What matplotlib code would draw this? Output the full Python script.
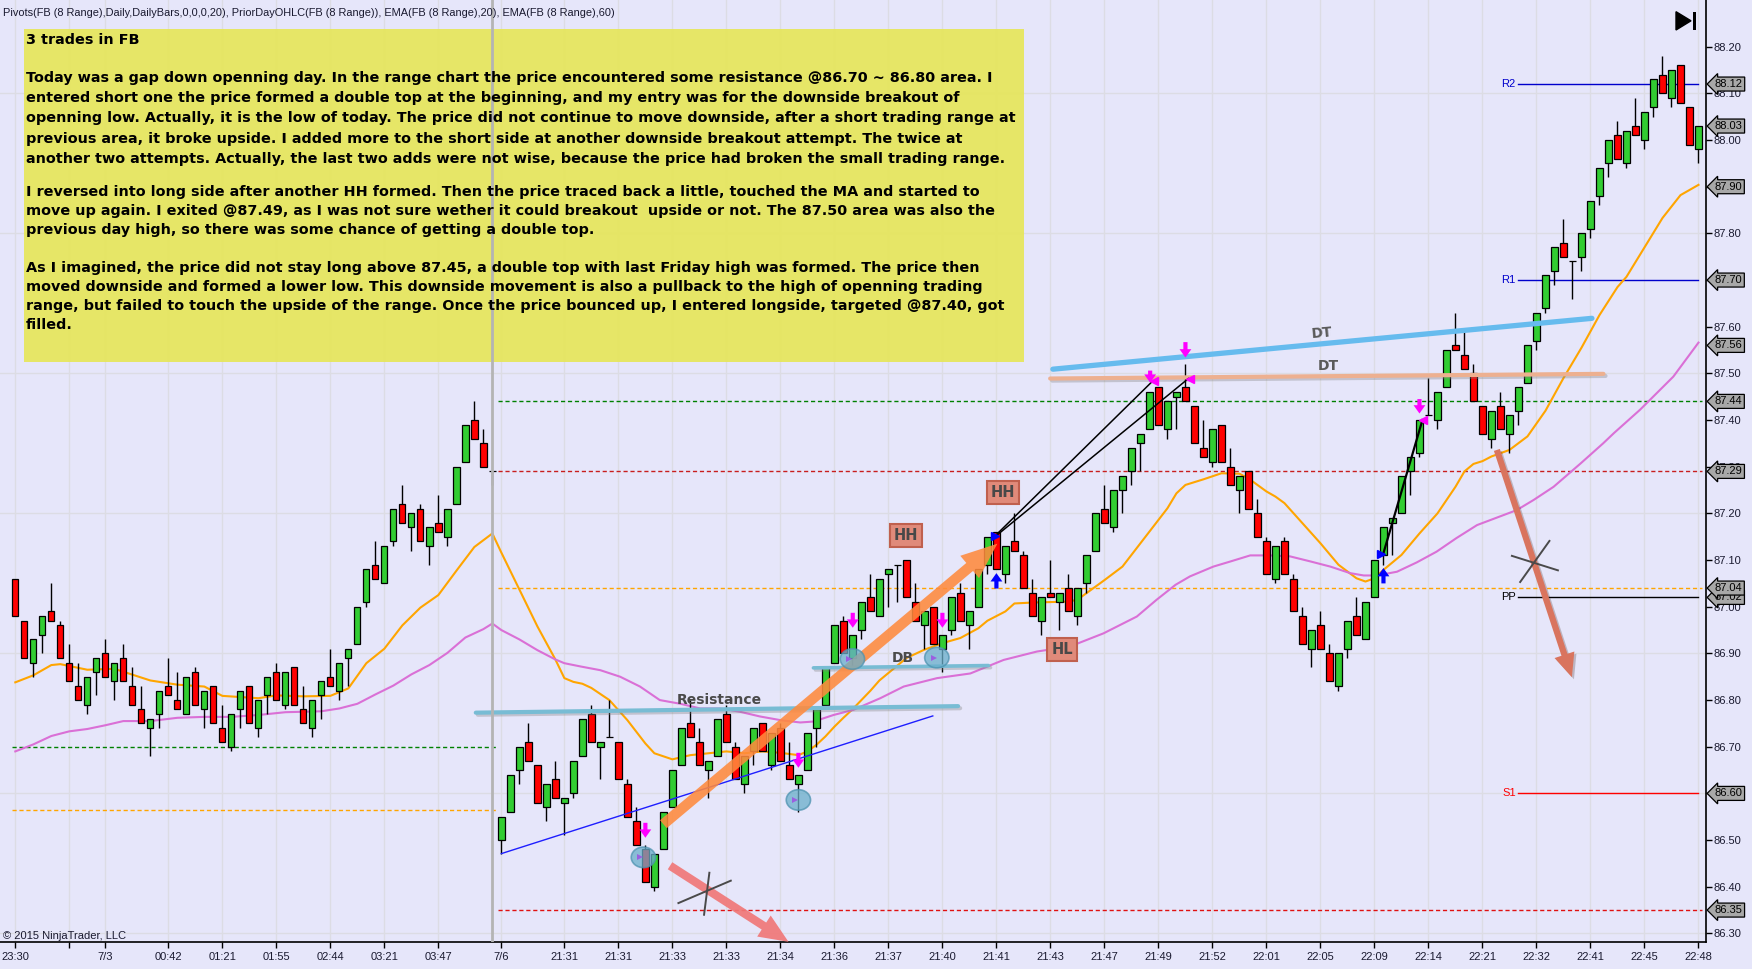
import matplotlib
matplotlib.use('Agg')
import matplotlib.pyplot as plt
import matplotlib.transforms as mtransforms
import matplotlib.patheffects as pe
from matplotlib.patches import Rectangle, Ellipse, FancyArrowPatch, Polygon

# ---------------- data ----------------
opens = [87.06, 86.97, 86.88, 86.94, 86.99, 86.96, 86.88, 86.83, 86.79, 86.86,
         86.90, 86.84, 86.89, 86.83, 86.78, 86.74, 86.77, 86.83, 86.80, 86.77,
         86.86, 86.78, 86.83, 86.74, 86.70, 86.78, 86.83, 86.74, 86.81, 86.86,
         86.79, 86.87, 86.78, 86.74, 86.81, 86.85, 86.82, 86.89, 86.92, 87.01,
         87.09, 87.05, 87.14, 87.22, 87.17, 87.21, 87.13, 87.18, 87.15, 87.22,
         87.31, 87.40, 87.35, 87.29,
         86.50, 86.56, 86.65, 86.71, 86.66, 86.57, 86.63, 86.58, 86.60, 86.68,
         86.77, 86.70, 86.72, 86.71, 86.62, 86.54, 86.48, 86.40, 86.48, 86.57,
         86.66, 86.75, 86.71, 86.65, 86.68, 86.77, 86.70, 86.62, 86.69, 86.75,
         86.66, 86.74, 86.66, 86.62, 86.65, 86.74, 86.79, 86.88, 86.97, 86.89,
         86.95, 87.02, 86.98, 87.07, 87.09, 87.10, 87.01, 86.96, 87.00, 86.91,
         86.95, 87.03, 86.96, 87.00, 87.09, 87.16, 87.07, 87.14, 87.11, 87.03,
         86.97, 87.03, 87.01, 87.04, 86.98, 87.05, 87.12, 87.21, 87.17, 87.25,
         87.29, 87.35, 87.38, 87.47, 87.38, 87.45, 87.47, 87.43, 87.34, 87.31,
         87.39, 87.30, 87.25, 87.29, 87.20, 87.14, 87.06, 87.14, 87.06, 86.98,
         86.91, 86.96, 86.90, 86.83, 86.91, 86.98, 86.93, 87.02, 87.11, 87.18,
         87.20, 87.29, 87.33, 87.41, 87.40, 87.47, 87.56, 87.54, 87.50, 87.43,
         87.36, 87.43, 87.37, 87.42, 87.48, 87.57, 87.64, 87.72, 87.78, 87.74,
         87.75, 87.81, 87.88, 87.95, 88.01, 87.95, 88.03, 88.00, 88.07, 88.14,
         88.09, 88.16, 88.07, 87.98]
highs = [87.06, 86.97, 86.93, 86.98, 87.05, 86.97, 86.92, 86.88, 86.85, 86.89,
         86.93, 86.88, 86.92, 86.87, 86.83, 86.76, 86.82, 86.89, 86.86, 86.85,
         86.87, 86.82, 86.83, 86.79, 86.77, 86.82, 86.83, 86.80, 86.85, 86.88,
         86.86, 86.87, 86.83, 86.80, 86.84, 86.91, 86.88, 86.91, 87.00, 87.08,
         87.14, 87.13, 87.21, 87.26, 87.20, 87.22, 87.17, 87.24, 87.21, 87.30,
         87.39, 87.44, 87.38, 87.29,
         86.55, 86.64, 86.70, 86.75, 86.66, 86.62, 86.67, 86.59, 86.67, 86.76,
         86.79, 86.71, 86.80, 86.71, 86.63, 86.57, 86.49, 86.47, 86.56, 86.65,
         86.74, 86.80, 86.74, 86.67, 86.76, 86.79, 86.71, 86.68, 86.74, 86.75,
         86.73, 86.75, 86.71, 86.64, 86.73, 86.78, 86.87, 86.96, 86.98, 86.94,
         87.01, 87.07, 87.06, 87.08, 87.09, 87.10, 87.05, 86.99, 87.00, 86.94,
         87.02, 87.05, 86.99, 87.08, 87.15, 87.16, 87.13, 87.20, 87.12, 87.06,
         87.02, 87.10, 87.03, 87.07, 87.04, 87.11, 87.20, 87.26, 87.25, 87.28,
         87.34, 87.37, 87.46, 87.47, 87.44, 87.46, 87.52, 87.43, 87.40, 87.38,
         87.39, 87.34, 87.28, 87.29, 87.23, 87.15, 87.13, 87.15, 87.07, 87.00,
         86.95, 86.99, 86.92, 86.90, 86.97, 87.02, 87.01, 87.10, 87.17, 87.19,
         87.28, 87.32, 87.40, 87.49, 87.46, 87.55, 87.63, 87.59, 87.52, 87.43,
         87.42, 87.46, 87.41, 87.47, 87.56, 87.63, 87.71, 87.77, 87.83, 87.74,
         87.80, 87.87, 87.94, 88.00, 88.04, 88.02, 88.09, 88.06, 88.13, 88.18,
         88.15, 88.16, 88.07, 88.03]
lows = [86.98, 86.89, 86.85, 86.90, 86.97, 86.89, 86.84, 86.80, 86.77, 86.81,
        86.85, 86.80, 86.84, 86.79, 86.75, 86.68, 86.74, 86.81, 86.78, 86.77,
        86.79, 86.74, 86.75, 86.71, 86.69, 86.74, 86.75, 86.72, 86.77, 86.80,
        86.78, 86.79, 86.75, 86.72, 86.76, 86.83, 86.80, 86.83, 86.92, 87.00,
        87.06, 87.05, 87.13, 87.18, 87.12, 87.14, 87.09, 87.16, 87.13, 87.22,
        87.31, 87.36, 87.30, 87.26,
        86.47, 86.56, 86.62, 86.67, 86.58, 86.54, 86.59, 86.51, 86.59, 86.68,
        86.71, 86.63, 86.72, 86.63, 86.55, 86.49, 86.41, 86.39, 86.48, 86.57,
        86.66, 86.72, 86.66, 86.59, 86.68, 86.71, 86.63, 86.60, 86.66, 86.69,
        86.65, 86.67, 86.63, 86.56, 86.65, 86.70, 86.79, 86.88, 86.90, 86.87,
        86.93, 86.99, 86.98, 87.00, 87.01, 87.02, 86.97, 86.91, 86.92, 86.86,
        86.94, 86.97, 86.91, 87.00, 87.07, 87.08, 87.05, 87.12, 87.04, 86.98,
        86.94, 87.02, 86.95, 86.99, 86.96, 87.03, 87.12, 87.18, 87.16, 87.20,
        87.26, 87.29, 87.38, 87.39, 87.36, 87.38, 87.44, 87.35, 87.32, 87.30,
        87.31, 87.26, 87.20, 87.21, 87.15, 87.07, 87.05, 87.07, 86.99, 86.92,
        86.87, 86.91, 86.84, 86.82, 86.89, 86.94, 86.93, 87.02, 87.09, 87.11,
        87.20, 87.24, 87.32, 87.41, 87.38, 87.47, 87.55, 87.51, 87.44, 87.37,
        87.34, 87.38, 87.33, 87.39, 87.48, 87.55, 87.63, 87.69, 87.75, 87.66,
        87.72, 87.79, 87.86, 87.92, 87.96, 87.94, 88.01, 87.98, 88.05, 88.10,
        88.07, 88.08, 87.99, 87.95]
closes = [86.98, 86.89, 86.93, 86.98, 86.97, 86.89, 86.84, 86.80, 86.85, 86.89,
          86.85, 86.88, 86.84, 86.79, 86.75, 86.76, 86.82, 86.81, 86.78, 86.85,
          86.79, 86.82, 86.75, 86.71, 86.77, 86.82, 86.75, 86.80, 86.85, 86.80,
          86.86, 86.79, 86.75, 86.80, 86.84, 86.83, 86.88, 86.91, 87.00, 87.08,
          87.06, 87.13, 87.21, 87.18, 87.20, 87.14, 87.17, 87.16, 87.21, 87.30,
          87.39, 87.36, 87.30, 87.29,
          86.55, 86.64, 86.70, 86.67, 86.58, 86.62, 86.59, 86.59, 86.67, 86.76,
          86.71, 86.71, 86.72, 86.63, 86.55, 86.49, 86.41, 86.47, 86.56, 86.65,
          86.74, 86.72, 86.66, 86.67, 86.76, 86.71, 86.63, 86.68, 86.74, 86.69,
          86.73, 86.67, 86.63, 86.64, 86.73, 86.78, 86.87, 86.96, 86.90, 86.94,
          87.01, 86.99, 87.06, 87.08, 87.09, 87.02, 86.97, 86.99, 86.92, 86.94,
          87.02, 86.97, 86.99, 87.08, 87.15, 87.08, 87.13, 87.12, 87.04, 86.98,
          87.02, 87.02, 87.03, 86.99, 87.04, 87.11, 87.20, 87.18, 87.25, 87.28,
          87.34, 87.37, 87.46, 87.39, 87.44, 87.46, 87.44, 87.35, 87.32, 87.38,
          87.31, 87.26, 87.28, 87.21, 87.15, 87.07, 87.13, 87.07, 86.99, 86.92,
          86.95, 86.91, 86.84, 86.90, 86.97, 86.94, 87.01, 87.10, 87.17, 87.19,
          87.28, 87.32, 87.40, 87.41, 87.46, 87.55, 87.55, 87.51, 87.44, 87.37,
          87.42, 87.38, 87.41, 87.47, 87.56, 87.63, 87.71, 87.77, 87.75, 87.74,
          87.80, 87.87, 87.94, 88.00, 87.96, 88.02, 88.01, 88.06, 88.13, 88.10,
          88.15, 88.08, 87.99, 88.03]

ema20_x = [0, 2, 4, 5, 8, 11, 15, 18, 21, 23, 27, 29, 32, 35, 37, 39, 41, 43, 45, 47,
           49, 51, 53, 54, 56, 58, 60, 61, 62, 63, 64, 66, 68, 70, 71, 73, 75, 77, 79, 81,
           83, 85, 87, 88, 89, 90, 91, 92, 93, 94, 95, 96, 97, 99, 101, 103, 105, 107, 108, 110,
           111, 113, 115, 117, 118, 119, 121, 123, 125, 127, 128, 129, 130, 132, 134, 136, 137, 139, 140, 141,
           143, 145, 147, 149, 150, 151, 152, 154, 156, 158, 160, 161, 162, 163, 164, 166, 168, 170, 172, 174,
           176, 178, 179, 181, 183, 185, 186, 187]
ema20_y = [86.838, 86.853, 86.875, 86.877, 86.865, 86.867, 86.842, 86.833, 86.829, 86.809,
           86.804, 86.810, 86.808, 86.809, 86.825, 86.879, 86.910, 86.960, 86.998, 87.025,
           87.077, 87.128, 87.157, 87.116, 87.037, 86.958, 86.887, 86.847, 86.839, 86.835,
           86.826, 86.800, 86.757, 86.707, 86.686, 86.673, 86.682, 86.686, 86.690, 86.686,
           86.690, 86.687, 86.682, 86.690, 86.704, 86.722, 86.743, 86.762, 86.780, 86.800,
           86.820, 86.842, 86.858, 86.890, 86.908, 86.922, 86.933, 86.954, 86.970, 86.990,
           87.007, 87.009, 87.010, 87.011, 87.015, 87.029, 87.057, 87.086, 87.136, 87.186,
           87.211, 87.243, 87.261, 87.273, 87.286, 87.285, 87.275, 87.247, 87.236, 87.222,
           87.179, 87.136, 87.090, 87.061, 87.054, 87.061, 87.079, 87.111, 87.157, 87.200,
           87.257, 87.290, 87.306, 87.312, 87.322, 87.336, 87.365, 87.420, 87.490, 87.555,
           87.625, 87.685, 87.707, 87.770, 87.833, 87.882, 87.893, 87.904]

ema60_x = [0, 2, 4, 6, 8, 10, 12, 15, 18, 21, 24, 27, 30, 34, 36, 38, 40, 42, 44, 46,
           48, 50, 52, 53, 54, 56, 58, 60, 61, 62.8, 65, 67.2, 69.4, 71.6, 73.9, 76.1, 78.3, 80.5, 82.7, 85,
           87.2, 88.7, 90.9, 93.1, 96.1, 98.7, 102.4, 106.1, 109.8, 113.5, 117.2, 120.9, 124.6, 126.8, 128.9, 130.5,
           133.1, 135, 137.2, 139.4, 141.6, 143.9, 146.1, 148.3, 149.8, 151.3, 153.5, 155.7, 157.9, 160.1,
           162.4, 166.8, 168.7, 170.9, 173.9, 176.4, 177.6, 180.5, 184.2, 187]
ema60_y = [86.690, 86.705, 86.723, 86.733, 86.738, 86.746, 86.755, 86.755, 86.762, 86.764,
           86.764, 86.768, 86.774, 86.776, 86.782, 86.792, 86.812, 86.831, 86.855, 86.875,
           86.901, 86.934, 86.952, 86.964, 86.950, 86.930, 86.907, 86.887, 86.879, 86.872,
           86.864, 86.850, 86.829, 86.800, 86.792, 86.782, 86.782, 86.775, 86.765, 86.757,
           86.752, 86.754, 86.768, 86.779, 86.804, 86.829, 86.847, 86.857, 86.886, 86.904,
           86.915, 86.943, 86.979, 87.015, 87.047, 87.065, 87.086, 87.097, 87.110, 87.110,
           87.108, 87.097, 87.086, 87.072, 87.067, 87.067, 87.075, 87.095, 87.118, 87.147,
           87.175, 87.207, 87.229, 87.257, 87.307, 87.350, 87.372, 87.422, 87.493, 87.566]

xtick_pos = [0, 6, 10, 17, 23, 29, 35, 41, 47, 54, 61, 67, 73, 79, 85, 91, 97, 103, 109,
             115, 121, 127, 133, 139, 145, 151, 157, 163, 169, 175, 181, 187]
xtick_labels = ['23:30', '', '7/3', '00:42', '01:21', '01:55', '02:44', '03:21', '03:47', '7/6',
                '21:31', '21:31', '21:33', '21:33', '21:34', '21:36', '21:37', '21:40', '21:41',
                '21:43', '21:47', '21:49', '21:52', '22:01', '22:05', '22:09', '22:14', '22:21',
                '22:32', '22:41', '22:45', '22:48']
ytick_vals = [86.30, 86.40, 86.50, 86.60, 86.70, 86.80, 86.90, 87.00, 87.10, 87.20,
              87.30, 87.40, 87.50, 87.60, 87.70, 87.80, 87.90, 88.00, 88.10, 88.20]
grid_prices = [86.30, 86.60, 86.90, 87.20, 87.50, 87.80, 88.10]

# prior day OHLC levels
prev_levels_left = [(86.70, '#008000'), (86.565, '#FFA500')]
prev_levels_right = [(87.44, '#008000'), (87.29, '#C81E1E'), (87.04, '#FFA500'), (86.35, '#E01010')]
# pivots
pivot_names = ['R2', 'R1', 'PP', 'S1']
pivot_vals = [88.12, 87.70, 87.02, 86.60]
pivot_cols = ['#0000CC', '#0000CC', '#000000', '#FF0000']
# right-axis price tags
tag_vals = [88.12, 88.03, 87.90, 87.70, 87.56, 87.44, 87.29, 87.02, 87.04, 86.60, 86.35]

header = ("Pivots(FB (8 Range),Daily,DailyBars,0,0,0,20), PriorDayOHLC(FB (8 Range)), "
          "EMA(FB (8 Range),20), EMA(FB (8 Range),60)")
note_lines = [
    "3 trades in FB",
    "Today was a gap down openning day. In the range chart the price encountered some resistance @86.70 ~ 86.80 area. I",
    "entered short one the price formed a double top at the beginning, and my entry was for the downside breakout of",
    "openning low. Actually, it is the low of today. The price did not continue to move downside, after a short trading range at",
    "previous area, it broke upside. I added more to the short side at another downside breakout attempt. The twice at",
    "another two attempts. Actually, the last two adds were not wise, because the price had broken the small trading range.",
    "I reversed into long side after another HH formed. Then the price traced back a little, touched the MA and started to",
    "move up again. I exited @87.49, as I was not sure wether it could breakout  upside or not. The 87.50 area was also the",
    "previous day high, so there was some chance of getting a double top.",
    "As I imagined, the price did not stay long above 87.45, a double top with last Friday high was formed. The price then",
    "moved downside and formed a lower low. This downside movement is also a pullback to the high of openning trading",
    "range, but failed to touch the upside of the range. Once the price bounced up, I entered longside, targeted @87.40, got",
    "filled.",
]
note_y_px = [40, 78, 98, 118, 138.5, 158.5, 192, 211, 230, 268, 287, 306, 325]

# ---------------- figure ----------------
W, H = 1752, 969
BG = '#E6E6FA'
fig = plt.figure(figsize=(W / 100, H / 100), dpi=100)
fig.patch.set_facecolor(BG)
AX_R = 1705.7
AX_B = 942.0
ax = fig.add_axes([0, 1 - AX_B / H, AX_R / W, AX_B / H])
ax.set_facecolor(BG)
ax.set_xlim(-1.7, 187.8)
ax.set_ylim(86.2816, 88.3001)


def fpx(x, y):
    return x / W, 1 - y / H


SANS = ['Liberation Sans', 'DejaVu Sans']
TXT = '#1A1A30'

# grid
for xp in xtick_pos:
    ax.axvline(xp, color='#DCDCE4', lw=1, zorder=0.5)
for gp in grid_prices:
    ax.axhline(gp, color='#DCDCE4', lw=1, zorder=0.5)

# session separator
ax.axvline(52.93, color='#B4B4B4', lw=2.0, zorder=6)

# prior day levels
for lv, c in prev_levels_left:
    ax.plot([-0.37, 53.38], [lv, lv], color=c, lw=1, dashes=(3, 2), zorder=1)
for lv, c in prev_levels_right:
    ax.plot([53.63, 187.4], [lv, lv], color=c, lw=1, dashes=(3, 2), zorder=1)

# pivots
for nm, v, c in zip(pivot_names, pivot_vals, pivot_cols):
    ax.plot([166.97, 187.0], [v, v], color=c, lw=1, zorder=1)
    ax.text(166.7, v, nm, color=c, fontsize=8, family=SANS, ha='right', va='center', zorder=2)

# EMAs
ax.plot(ema20_x, ema20_y, color='#FFA500', lw=1.5, zorder=2, solid_joinstyle='round')
ax.plot(ema60_x, ema60_y, color='#DA70D6', lw=1.5, zorder=2, solid_joinstyle='round')

# candles
idx = list(range(len(opens)))
ax.vlines(idx, lows, highs, color='black', lw=1, zorder=3)
bottoms = [min(o, c) for o, c in zip(opens, closes)]
heights = [abs(c - o) for o, c in zip(opens, closes)]
cols = ['#32CD32' if c >= o else '#FF0000' for o, c in zip(opens, closes)]
ax.bar(idx, heights, bottom=bottoms, width=0.7, color=cols, edgecolor='black',
       linewidth=0.9, zorder=4)

# ---------------- drawings ----------------
shadow = [pe.SimpleLineShadow(offset=(1.5, -1.5), shadow_color='#808080', alpha=0.35), pe.Normal()]

# support line (blue thin)
ax.plot([54.0, 101.93], [86.471, 86.766], color='#1E1EFF', lw=1.0, zorder=5)
# resistance line
ax.plot([51.16, 104.74], [86.773, 86.787], color='#78BCD4', lw=3.0, zorder=5,
        solid_capstyle='round', path_effects=shadow)
ax.text(78.16, 86.800, 'Resistance', color='#4A4A4A', fontsize=10, fontweight='bold',
        ha='center', va='center', zorder=6)
# DB line
ax.plot([88.67, 108.11], [86.869, 86.874], color='#78BCD4', lw=2.6, zorder=5,
        solid_capstyle='round', path_effects=shadow)
ax.text(98.58, 86.891, 'DB', color='#4A4A4A', fontsize=10, fontweight='bold',
        ha='center', va='center', zorder=6)
# DT lines
ax.plot([115.27, 175.16], [87.509, 87.618], color='#66BBEE', lw=3.8, zorder=5,
        solid_capstyle='round')
ax.text(145.16, 87.586, 'DT', color='#5A5A5A', fontsize=10, fontweight='bold',
        ha='center', va='center', rotation=5, zorder=6)
ax.plot([114.97, 176.44], [87.489, 87.499], color='#EDB090', lw=3.0, zorder=5,
        solid_capstyle='round', path_effects=shadow)
ax.text(145.86, 87.515, 'DT', color='#5A5A5A', fontsize=10, fontweight='bold',
        ha='center', va='center', zorder=6)

# black thin lines
ax.plot([108.97, 126.38], [87.154, 87.484], color='black', lw=1.1, zorder=6)
ax.plot([109.1, 130.33], [87.154, 87.489], color='black', lw=1.1, zorder=6)
ax.plot([152.0, 156.33], [87.115, 87.40], color='black', lw=1.6, zorder=6)


def big_arrow(p0, p1, color, tail, hw, hl, alpha=1.0, z=6, shadowed=False):
    a = FancyArrowPatch(p0, p1, arrowstyle=f'simple,tail_width={tail},head_width={hw},head_length={hl}',
                        mutation_scale=1, color=color, alpha=alpha, lw=0, zorder=z,
                        shrinkA=0, shrinkB=0, clip_on=False)
    if shadowed:
        a.set_path_effects([pe.SimplePatchShadow(offset=(1.5, -1.5), alpha=0.25), pe.Normal()])
    ax.add_patch(a)


# orange up arrow
big_arrow((72.0, 86.534), (109.1, 87.135), '#FF8A3D', 7.5, 21, 26, alpha=0.88)
# pink down arrow (left)
big_arrow((72.74, 86.445), (85.9, 86.282), '#F07878', 6, 18, 21, alpha=0.92)
# salmon down arrow (right)
big_arrow((164.6, 87.336), (172.93, 86.849), '#D9745E', 4.5, 15, 17, shadowed=True)

# X marks
for seg in [((73.67, 79.49), (86.365, 86.413)), ((76.52, 77.11), (86.340, 86.430)),
            ((166.27, 171.38), (87.109, 87.078)), ((167.19, 170.44), (87.053, 87.141))]:
    ax.plot(seg[0], seg[1], color='#4A4A4A', lw=1.4, zorder=7)

# circles
for cx, cy in [(69.78, 86.463), (87.0, 86.586), (93.0, 86.888), (102.38, 86.891)]:
    ax.add_patch(Ellipse((cx, cy), 2.7, 0.044, fc='#6AAFCB', ec='#4E93B0', lw=1.2,
                         alpha=0.75, zorder=7))
    ax.plot([cx - 0.35], [cy], marker='>', color='#9A5FE0', ms=5, zorder=8, mew=0)


def small_arrow(x, y0, y1, color):
    a = FancyArrowPatch((x, y0), (x, y1), arrowstyle='simple,tail_width=3,head_width=8.5,head_length=6',
                        mutation_scale=1, color=color, lw=0, zorder=8, shrinkA=0, shrinkB=0)
    ax.add_patch(a)


for x, y0, y1 in [(70.0, 86.537, 86.505), (87.0, 86.687, 86.655), (93.04, 86.987, 86.955),
                  (103.0, 86.987, 86.955), (126.08, 87.506, 87.480), (130.0, 87.567, 87.534),
                  (156.0, 87.445, 87.414)]:
    small_arrow(x, y0, y1, '#FF00FF')
for x, y0, y1 in [(109.0, 87.039, 87.072), (152.0, 87.050, 87.083)]:
    small_arrow(x, y0, y1, '#0000FF')

# execution markers
ax.plot([108.8, 151.7], [87.152, 87.113], ls='none', marker='>', color='#0000FF', ms=6, zorder=8)
ax.plot([126.5, 130.5, 156.4], [87.484, 87.489, 87.40], ls='none', marker='<', color='#FF00FF',
        ms=6, zorder=8)

# HH / HL boxes
for x, y, s in [(98.94, 87.152, 'HH'), (109.72, 87.245, 'HH'), (116.3, 86.909, 'HL')]:
    ax.text(x, y, s, ha='center', va='center', fontsize=10.5, fontweight='bold', color='#484848',
            zorder=9, bbox=dict(boxstyle='square,pad=0.28', fc='#E08A7A', ec='#C0604E', lw=1.5))

# ---------------- axes styling ----------------
for s in ['top', 'left']:
    ax.spines[s].set_visible(False)
for s in ['right', 'bottom']:
    ax.spines[s].set_color('black')
    ax.spines[s].set_linewidth(1.2)
ax.yaxis.tick_right()
ax.set_yticks(ytick_vals)
ax.set_yticklabels([f'{v:.2f}' for v in ytick_vals])
ax.set_xticks(xtick_pos)
ax.set_xticklabels(xtick_labels)
ax.tick_params(axis='y', length=4.5, width=1, pad=1, labelsize=8, labelcolor=TXT, direction='out')
ax.tick_params(axis='x', length=4, width=1, pad=3, labelsize=8, labelcolor=TXT, direction='out')
for lab in ax.get_xticklabels() + ax.get_yticklabels():
    lab.set_family(SANS)

# price tags
blend = mtransforms.blended_transform_factory(ax.transAxes, ax.transData)
for v in tag_vals:
    ax.text(1.0 + 9 / AX_R, v, f'{v:.2f}', transform=blend, fontsize=8, family=SANS,
            color='black', ha='left', va='center', clip_on=False, zorder=10,
            bbox=dict(boxstyle='larrow,pad=0.18', fc='#A8A8A8', ec='black', lw=0.9))

# ---------------- overlay text / box ----------------
bx0, by0 = fpx(24, 361.5)
bx1, by1 = fpx(1024, 29)
ax.add_patch(Rectangle((bx0, by0), bx1 - bx0, by1 - by0, transform=fig.transFigure,
                       fc='#E6E65A', ec='none', alpha=0.92, zorder=5.5, clip_on=False))

note_objs = []
for s, yp in zip(note_lines, note_y_px):
    x, y = fpx(25.5, yp)
    t = fig.text(x, y, s, fontsize=9.5, fontweight='bold', family='DejaVu Sans', color='black',
                 ha='left', va='center', zorder=12)
    note_objs.append(t)

hx, hy = fpx(3, 13)
htxt = fig.text(hx, hy, header, fontsize=8, family=SANS, color=TXT, ha='left', va='center')
cx0, cy0 = fpx(3, 936)
ctxt = fig.text(cx0, cy0, '\u00a9 2015 NinjaTrader, LLC', fontsize=8, family=SANS, color=TXT,
                ha='left', va='center', zorder=12)

# NinjaTrader "go to end" icon
p1 = fpx(1676, 11.7); p2 = fpx(1676, 30); p3 = fpx(1691, 20.8)
fig.add_artist(Polygon([p1, p2, p3], closed=True, transform=fig.transFigure, fc='black', ec='black'))
r0 = fpx(1692.7, 30)
fig.add_artist(Rectangle(r0, 3.3 / W, 18.3 / H, transform=fig.transFigure, fc='black', ec='none'))

# fit text widths to reference
fig.canvas.draw()
rend = fig.canvas.get_renderer()
w_note = note_objs[3].get_window_extent(rend).width
fs = 9.5 * 994 / w_note
for t in note_objs:
    t.set_fontsize(fs)
w_head = htxt.get_window_extent(rend).width
htxt.set_fontsize(8 * 614 / w_head)
w_c = ctxt.get_window_extent(rend).width
ctxt.set_fontsize(8 * 124 / w_c)

fig.savefig('out.png', dpi=100, facecolor=BG)
